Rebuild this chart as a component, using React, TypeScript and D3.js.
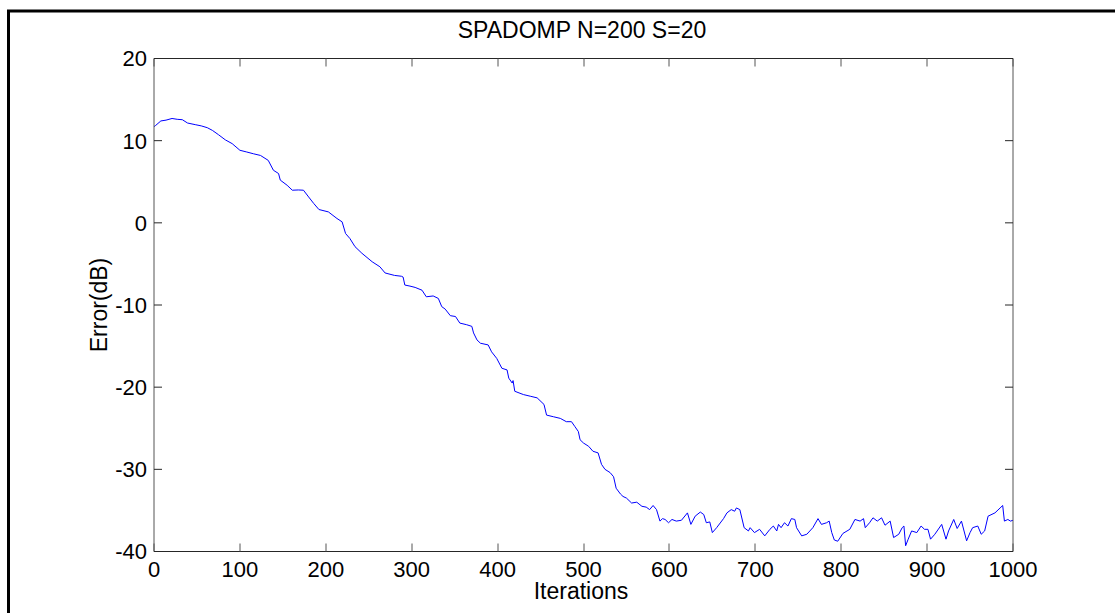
import React from "react";
import * as d3 from "d3";

const TITLE = "SPADOMP N=200 S=20";
const X_LABEL = "Iterations";
const Y_LABEL = "Error(dB)";
const X_TICKS = [0, 100, 200, 300, 400, 500, 600, 700, 800, 900, 1000];
const Y_TICKS = [-40, -30, -20, -10, 0, 10, 20];

const iterations = [
  0, 2, 8, 14, 21, 27, 33, 39, 48, 55, 62, 68, 75, 83, 91, 100, 108, 116, 124, 133,
  139, 145, 147, 155, 161, 168, 174, 180, 186, 192, 203, 213, 219, 223, 228, 234, 242, 254, 263, 269,
  280, 288, 290, 292, 298, 304, 312, 317, 325, 331, 335, 339, 345, 351, 356, 364, 370, 372, 376, 380,
  389, 393, 399, 405, 411, 413, 417, 418, 420, 430, 438, 446, 454, 457, 465, 473, 480, 486, 490, 494,
  496, 500, 506, 511, 517, 521, 525, 531, 535, 538, 543, 546, 550, 556, 562, 568, 573, 577, 581, 585,
  589, 592, 595, 599, 603, 608, 614, 621, 625, 630, 636, 640, 643, 647, 650, 655, 663, 667, 672, 676,
  678, 682, 687, 692, 694, 699, 705, 711, 717, 721, 725, 727, 730, 734, 738, 742, 746, 748, 754, 760,
  767, 773, 777, 783, 786, 789, 792, 796, 802, 810, 816, 822, 826, 828, 833, 837, 842, 847, 851, 857,
  861, 867, 871, 873, 875, 878, 882, 888, 893, 897, 901, 904, 909, 917, 922, 925, 931, 935, 940, 946,
  950, 953, 959, 963, 967, 971, 979, 986, 988, 990, 994, 997, 1000,
];

const errorDb = [
  11.7, 11.86, 12.4, 12.5, 12.7, 12.6, 12.55, 12.15, 11.95, 11.8, 11.58, 11.25, 10.73, 10.1, 9.64, 8.83, 8.62, 8.4, 8.2, 7.6,
  6.4, 6.0, 5.2, 4.57, 3.97, 4.0, 3.97, 3.15, 2.35, 1.62, 1.33, 0.53, 0.12, -1.3, -1.9, -2.9, -3.7, -4.74, -5.35, -6.1,
  -6.4, -6.5, -6.6, -7.57, -7.7, -7.86, -8.2, -9.0, -8.9, -9.2, -10.2, -10.5, -11.3, -11.4, -12.2, -12.4, -12.6, -13.4, -14.25, -14.65,
  -14.86, -15.7, -16.5, -17.7, -17.9, -18.9, -19.5, -19.2, -20.5, -20.9, -21.1, -21.3, -22.1, -23.4, -23.6, -23.8, -24.2, -24.2, -24.8, -25.4,
  -26.4, -26.8, -27.2, -27.8, -28.0, -29.4, -30.0, -30.4, -30.9, -32.3, -33.0, -33.3, -33.5, -34.1, -34.0, -34.5, -34.6, -34.9, -34.4, -34.9,
  -36.3, -36.0, -36.1, -36.5, -36.1, -36.3, -36.2, -35.3, -36.7, -35.7, -35.2, -35.5, -36.5, -36.4, -37.7, -37.1, -36.0, -35.3, -34.9, -35.1,
  -34.7, -34.9, -37.1, -37.5, -37.1, -37.7, -37.3, -38.1, -37.3, -36.9, -37.5, -36.7, -37.1, -36.5, -36.9, -36.0, -36.1, -37.1, -38.1, -37.9,
  -37.1, -36.0, -36.7, -36.5, -36.3, -37.7, -38.6, -38.75, -37.8, -37.3, -36.1, -36.3, -36.0, -37.1, -36.5, -35.9, -36.3, -35.9, -36.8, -36.3,
  -38.3, -37.9, -37.1, -36.9, -39.3, -38.5, -37.5, -37.7, -36.9, -37.3, -37.3, -38.5, -37.9, -36.7, -38.5, -37.5, -36.1, -37.2, -36.3, -38.7,
  -37.7, -37.1, -36.9, -37.9, -37.5, -35.7, -35.3, -34.6, -34.4, -36.3, -36.1, -36.3, -36.2,
];

const FONT = "'Liberation Sans', Arial, Helvetica, sans-serif";

export default function App() {
  const W = 1115;
  const H = 613;
  const left = 154;
  const right = 1013;
  const top = 58.5;
  const bottom = 551.5;

  const x = d3.scaleLinear().domain([0, 1000]).range([left, right]);
  const y = d3.scaleLinear().domain([-40, 20]).range([bottom, top]);

  const pts: [number, number][] = iterations.map((it, i) => [it, errorDb[i]]);
  const line = d3
    .line<[number, number]>()
    .x((d) => x(d[0]))
    .y((d) => y(d[1]));

  const tickLen = 8;
  const dark = "#262626";
  const grey = "#555";

  return (
    <svg
      width={W}
      height={H}
      style={{ position: "absolute", left: 0, top: 0, background: "#fff" }}
      fontFamily={FONT}
    >
      <rect x={0} y={0} width={W} height={H} fill="#fff" />
      {/* outer frame */}
      <rect x={8.5} y={11} width={W + 20} height={H + 20} fill="none" stroke="#000" strokeWidth={3} />

      {/* data line */}
      <path d={line(pts) || ""} fill="none" stroke="#0000ff" strokeWidth={1} />

      {/* axes box */}
      <line x1={left} x2={right} y1={top} y2={top} stroke={dark} strokeWidth={1} />
      <line x1={left} x2={right} y1={bottom} y2={bottom} stroke={dark} strokeWidth={1} />
      <line x1={left} x2={left} y1={top} y2={bottom} stroke={grey} strokeWidth={1} />
      <line x1={right} x2={right} y1={top} y2={bottom} stroke={grey} strokeWidth={1} />

      {/* x ticks */}
      {X_TICKS.map((t) => (
        <g key={"x" + t}>
          <line x1={Math.round(x(t))} x2={Math.round(x(t))} y1={bottom} y2={bottom - tickLen} stroke={grey} />
          <line x1={Math.round(x(t))} x2={Math.round(x(t))} y1={top} y2={top + tickLen} stroke={grey} />
          <text x={x(t)} y={577} textAnchor="middle" fontSize={22} fill="#000">
            {t}
          </text>
        </g>
      ))}

      {/* y ticks */}
      {Y_TICKS.map((t) => (
        <g key={"y" + t}>
          <line x1={left} x2={left + tickLen} y1={y(t)} y2={y(t)} stroke={dark} />
          <line x1={right} x2={right - tickLen} y1={y(t)} y2={y(t)} stroke={dark} />
          <text x={147} y={y(t)} dy="0.36em" textAnchor="end" fontSize={22} fill="#000">
            {t}
          </text>
        </g>
      ))}

      {/* title and labels */}
      <text x={582} y={38} textAnchor="middle" fontSize={23} fill="#000">
        {TITLE}
      </text>
      <text x={581} y={599} textAnchor="middle" fontSize={23} fill="#000">
        {X_LABEL}
      </text>
      <text
        transform={`translate(106.5, 305) rotate(-90)`}
        textAnchor="middle"
        fontSize={23}
        fill="#000"
      >
        {Y_LABEL}
      </text>
    </svg>
  );
}
